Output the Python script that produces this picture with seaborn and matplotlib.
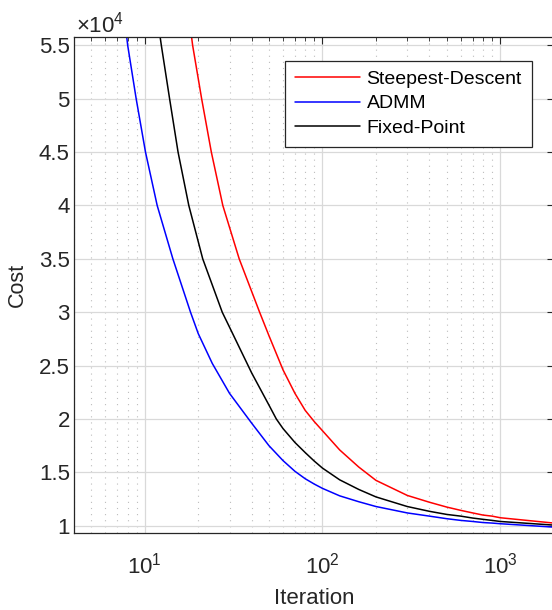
import matplotlib
matplotlib.use('Agg')
import matplotlib.pyplot as plt
import matplotlib.ticker as mticker
import numpy as np
import pandas as pd
import seaborn as sns

# values (cost in units of 1e4)
sd_iter = [17.8, 18.6, 20.9, 23.7, 27.5, 34.0, 44.3, 50, 60, 70, 80, 90, 100,
           125, 160, 200, 300, 400, 500, 600, 700, 800, 900, 1000, 2000]
sd_cost = [5.75, 5.5, 5.0, 4.5, 4.0, 3.5, 3.0, 2.78, 2.46, 2.24, 2.08, 1.975, 1.89,
           1.71, 1.55, 1.425, 1.284, 1.22, 1.175, 1.144, 1.12, 1.10, 1.09, 1.075, 1.025]

admm_iter = [7.7, 8.02, 8.95, 10.1, 11.75, 14.4, 18.1, 20, 24, 30, 40, 50, 60, 70, 80, 90, 100,
             125, 160, 200, 300, 400, 500, 600, 700, 800, 900, 1000, 2000]
admm_cost = [5.75, 5.5, 5.0, 4.5, 4.0, 3.5, 3.0, 2.80, 2.52, 2.24, 1.96, 1.75, 1.61, 1.51, 1.44, 1.39, 1.35,
             1.28, 1.225, 1.18, 1.12, 1.09, 1.066, 1.05, 1.04, 1.03, 1.025, 1.019, 0.987]

fp_iter = [11.8, 12.4, 13.8, 15.4, 17.7, 21.2, 27.3, 30, 40, 50, 55, 60, 70, 80, 90, 100,
           125, 160, 200, 300, 400, 500, 600, 700, 800, 900, 1000, 2000]
fp_cost = [5.75, 5.5, 5.0, 4.5, 4.0, 3.5, 3.0, 2.86, 2.43, 2.13, 2.0, 1.91, 1.78, 1.685, 1.605, 1.54,
           1.43, 1.34, 1.27, 1.18, 1.135, 1.106, 1.09, 1.072, 1.06, 1.05, 1.04, 1.006]

methods = ['Steepest-Descent', 'ADMM', 'Fixed-Point']
colors = {'Steepest-Descent': '#ff0000', 'ADMM': '#0000ff', 'Fixed-Point': '#000000'}

frames = []
for name, it, c in zip(methods, [sd_iter, admm_iter, fp_iter], [sd_cost, admm_cost, fp_cost]):
    frames.append(pd.DataFrame({'Iteration': it, 'Cost': np.array(c) * 1e4, 'Method': name}))
df = pd.concat(frames, ignore_index=True)

sns.set_style('white')
plt.rcParams['font.family'] = ['Liberation Sans', 'DejaVu Sans']
plt.rcParams['mathtext.fontset'] = 'custom'
plt.rcParams['mathtext.rm'] = 'Liberation Sans'
plt.rcParams['mathtext.it'] = 'Liberation Sans'

fig = plt.figure(figsize=(5.52, 6.10), dpi=100)
ax = fig.add_axes([74 / 552, 77 / 610, 479.7 / 552, 496 / 610])

sns.lineplot(data=df, x='Iteration', y='Cost', hue='Method', hue_order=methods,
             palette=colors, estimator=None, sort=False, linewidth=1.1, ax=ax)

ax.set_xscale('log')
ax.set_xlim(4, 2000)
ax.set_ylim(0.932e4, 5.578e4)

ax.yaxis.set_major_locator(mticker.MultipleLocator(5000))
ax.yaxis.set_major_formatter(mticker.FuncFormatter(lambda v, p: f'{v / 1e4:g}'))
ax.xaxis.set_minor_locator(mticker.LogLocator(base=10, subs=np.arange(2, 10)))
ax.xaxis.set_minor_formatter(mticker.NullFormatter())

dark = '#262626'
ax.grid(True, which='major', color='#d9d9d9', linewidth=0.9)
ax.grid(True, which='minor', axis='x', color='#bdbdbd', linewidth=0.8, linestyle=(0, (1, 4.5)))
ax.set_axisbelow(True)

for s in ax.spines.values():
    s.set_color(dark)
    s.set_linewidth(0.9)

ax.tick_params(which='both', direction='in', top=True, right=True, colors=dark, labelsize=16)
ax.tick_params(which='major', length=5, width=0.8)
ax.tick_params(which='minor', length=3, width=0.6)
ax.tick_params(axis='x', pad=14)
ax.tick_params(axis='y', pad=3)

ax.set_xlabel('Iteration', fontsize=16, color=dark, va='baseline')
ax.xaxis.set_label_coords(0.5, -71 / 496)
ax.set_ylabel('Cost', fontsize=15.5, color=dark, va='center')
ax.yaxis.set_label_coords(-57 / 479.7, 0.5)

ax.text(0.005, 1.0, r'$\mathregular{\times10^{4}}$', transform=ax.transAxes,
        fontsize=16, color=dark, ha='left', va='bottom')

leg = ax.legend(loc='upper right', bbox_to_anchor=(531.7 / 552, 1 - 60.7 / 610),
                bbox_transform=fig.transFigure, fontsize=14, frameon=True, fancybox=False,
                framealpha=1, edgecolor=dark, handlelength=3.35, handletextpad=0.35,
                labelspacing=0.35, borderpad=0.5, borderaxespad=0)
leg.get_frame().set_linewidth(0.9)
for t in leg.get_texts():
    t.set_color('#000000')

fig.savefig('out.png', dpi=100)
